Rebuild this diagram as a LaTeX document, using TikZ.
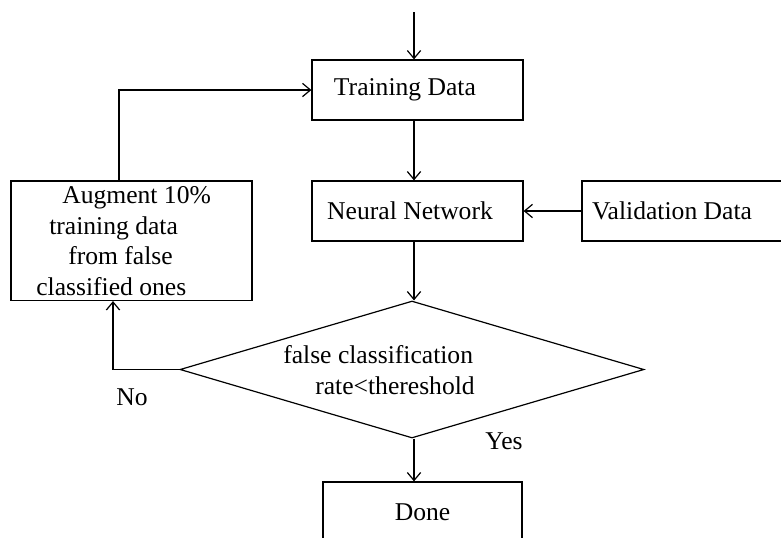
\documentclass[tikz,border=0pt]{standalone}
\usepackage{fontspec}
\setmainfont{Liberation Serif}
\usetikzlibrary{arrows.meta,shapes.geometric}
\begin{document}
\begin{tikzpicture}[x=0.75pt,y=-0.75pt,
  box/.style={draw,line width=0.9pt,inner sep=0pt},
  txt/.style={font=\fontsize{19.2pt}{23pt}\selectfont,inner sep=0pt},
  arr/.style={-{Straight Barb[length=6pt,width=10pt]},line width=0.9pt}]
\useasboundingbox (0,0) rectangle (781,537);
\clip (0,0) rectangle (781,537);
\node[box,minimum width=158.25pt,minimum height=45pt,
  label={[txt,xshift=-9.4pt]center:Training Data}] (tr) at (417.5,90) {};
\node[box,minimum width=158.25pt,minimum height=45pt,
  label={[txt,xshift=-5.6pt]center:Neural Network}] (nn) at (417.5,211) {};
\node[box,minimum width=195pt,minimum height=45pt,
  label={[txt,xshift=-30pt]center:Validation Data}] (val) at (712,211) {};
\node[box,minimum width=180.75pt,minimum height=89.6pt] (aug) at (131.5,240.75) {};
\node[txt,align=left,anchor=west] (augtext) at (36,241)
  {\hspace*{19.5pt}Augment 10\%\\\hspace*{9.75pt}training data\\\hspace*{24pt}from false\\classified ones};
\node[draw,diamond,line width=0.9pt,inner sep=0pt,minimum width=348pt,minimum height=102.75pt] (dec) at (412,369.5) {};
\node[txt,align=left,anchor=west] (dectext) at (283,370)
  {false classification\\\hspace*{24pt}rate<thereshold};
\node[box,minimum width=149.25pt,minimum height=60pt,
  label={[txt,yshift=7.5pt]center:Done}] (done) at (422.5,522) {};
\node[txt] (no) at (132,397) {No};
\node[txt] (yes) at (504,441) {Yes};
\coordinate (start) at (414,12);
\coordinate (col) at (414,0);
\coordinate (c119) at (119,0);
\coordinate (c113) at (113,0);
\draw[arr] (start) -- (start |- tr.north);
\draw[arr] (tr.south -| col) -- (nn.north -| col);
\draw[arr] (nn.south -| col) -- (dec.north -| col);
\draw[arr] (dec.south -| col) -- (done.north -| col);
\draw[arr] (val.west) -- (nn.east);
\draw[arr] (aug.north -| c119) |- (tr.west);
\draw[arr] (dec.west) -| (aug.south -| c113);
\end{tikzpicture}
\end{document}
